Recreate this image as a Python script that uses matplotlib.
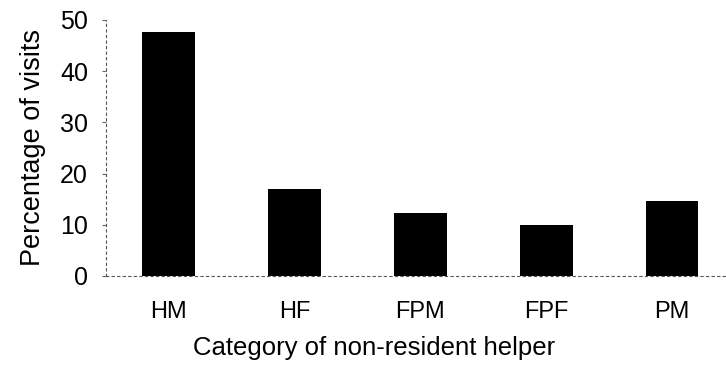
import matplotlib.pyplot as plt

categories = ['HM', 'HF', 'FPM', 'FPF', 'PM']
percent_visits = [47.7, 17.0, 12.3, 10.0, 14.7]
yticks = [0, 10, 20, 30, 40, 50]

plt.rcParams['font.family'] = ['Liberation Sans', 'DejaVu Sans']

fig = plt.figure(figsize=(7.26, 3.77), dpi=100)
ax = fig.add_axes([0.146, 0.268, 0.854, 0.679])

x = range(len(categories))
ax.bar(x, percent_visits, width=0.42, color='black')

ax.set_xlim(-0.5, 4.43)
ax.set_ylim(0, 50)
ax.set_yticks(yticks)
ax.set_xticks(list(x))
ax.set_xticklabels(categories, fontsize=17)
ax.tick_params(axis='y', labelsize=18, length=3, width=0.8, color='#666666', pad=10)
ax.tick_params(axis='x', length=0, pad=18)

for side in ['top', 'right']:
    ax.spines[side].set_visible(False)
for side in ['left', 'bottom']:
    ax.spines[side].set_linestyle((0, (2, 3)))
    ax.spines[side].set_color('#555555')
    ax.spines[side].set_linewidth(0.8)

ax.set_ylabel('Percentage of visits', fontsize=19.5, labelpad=10)
ax.set_xlabel('Category of non-resident helper', fontsize=18.5, labelpad=13)
# the caption in the scan sits left of the axes centre
ax.xaxis.set_label_coords(0.432, -0.235)

fig.savefig('out.png', dpi=100)
